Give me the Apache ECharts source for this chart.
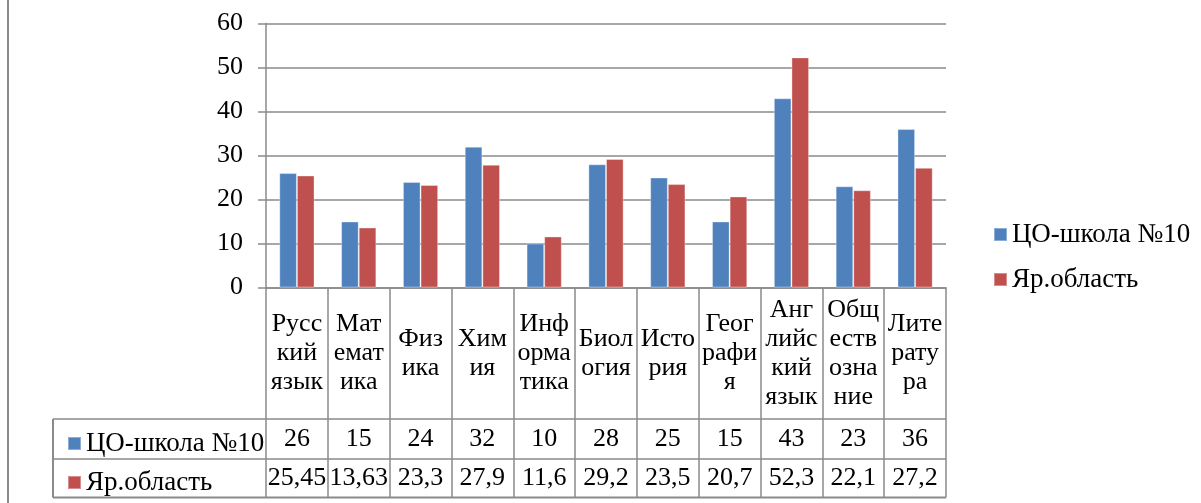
<!DOCTYPE html>
<html>
<head>
<meta charset="utf-8">
<script src="https://cdn.jsdelivr.net/npm/echarts@6/dist/echarts.min.js"></script>
<style>
html,body{margin:0;padding:0;background:#fff;}
#chart{width:1201px;height:503px;}
</style>
</head>
<body>
<div id="chart"></div>
<script>
// ---- data ----
const categories = ["Русс\nкий\nязык", "Мат\nемат\nика", "Физ\nика", "Хим\nия", "Инф\nорма\nтика", "Биол\nогия", "Исто\nрия", "Геог\nрафи\nя", "Анг\nлийс\nкий\nязык", "Общ\nеств\nозна\nние", "Лите\nрату\nра"];
const seriesNames = ["ЦО-школа №10", "Яр.область"];
const schoolValues = [26, 15, 24, 32, 10, 28, 25, 15, 43, 23, 36];
const regionValues = [25.45, 13.63, 23.3, 27.9, 11.6, 29.2, 23.5, 20.7, 52.3, 22.1, 27.2];
const yTicks = [0, 10, 20, 30, 40, 50, 60];

// ---- layout / style ----
const FONT = "'Liberation Serif'";
const GRID_L = 266, GRID_R = 946, GRID_T = 23.5, AXIS_Y = 287.5;
const ROW1 = 419, ROW2 = 459, TABLE_B = 497.5, TABLE_L = 53;
const GRAY = "#8a8a8a";
const BLUE = "#4F81BD", RED = "#C0504D";
const fmt = v => String(v).replace('.', ',');

const chart = echarts.init(document.getElementById('chart'), null, {renderer: 'canvas'});

const valueAxis = (data, margin) => ({
  type: 'category', data: categories, position: 'bottom', gridIndex: 0,
  axisLine: {show: false}, axisTick: {show: false}, splitLine: {show: false},
  axisLabel: {
    interval: 0, margin: margin, verticalAlign: 'middle',
    fontFamily: FONT, fontSize: 26, color: '#000',
    formatter: (v, i) => fmt(data[i])
  }
});

chart.setOption({
  animation: false,
  backgroundColor: '#fff',
  grid: {left: GRID_L, right: 1201 - GRID_R, top: GRID_T, bottom: 503 - AXIS_Y, containLabel: false},
  legend: [
    {
      orient: 'vertical', left: 988, top: 216, itemWidth: 13, itemHeight: 13, itemGap: 18,
      icon: 'rect', data: seriesNames,
      textStyle: {fontFamily: FONT, fontSize: 27, color: '#000'}
    },
    {
      orient: 'vertical', left: 62, top: 425, itemWidth: 13, itemHeight: 13, itemGap: 12,
      icon: 'rect', data: seriesNames, selectedMode: false,
      textStyle: {fontFamily: FONT, fontSize: 27, color: '#000'}
    }
  ],
  xAxis: [
    {
      type: 'category', data: categories, position: 'bottom',
      axisLine: {show: true, lineStyle: {color: GRAY, width: 1.5}},
      axisTick: {show: true, alignWithLabel: false, interval: 0, inside: false,
                 length: TABLE_B - AXIS_Y, lineStyle: {color: GRAY, width: 1.5}},
      axisLabel: {interval: 0, margin: 66, verticalAlign: 'middle', align: 'center',
                  fontFamily: FONT, fontSize: 26, lineHeight: 29, color: '#000'},
      splitLine: {show: false}
    },
    valueAxis(schoolValues, ROW1 + (ROW2 - ROW1) / 2 - AXIS_Y),
    valueAxis(regionValues, ROW2 + (TABLE_B - ROW2) / 2 - AXIS_Y)
  ],
  yAxis: {
    type: 'value', min: 0, max: 60, interval: 10,
    axisLine: {show: true, lineStyle: {color: GRAY, width: 1.5}},
    axisTick: {show: true, length: 8, lineStyle: {color: GRAY, width: 1.5}},
    axisLabel: {margin: 23, fontFamily: FONT, fontSize: 26, color: '#000',
                formatter: v => yTicks.includes(v) ? String(v) : ''},
    splitLine: {show: true, lineStyle: {color: GRAY, width: 1.5}}
  },
  series: [
    {name: seriesNames[0], type: 'bar', data: schoolValues, barGap: '0%', barCategoryGap: '43%',
     itemStyle: {color: BLUE, borderColor: 'rgba(255,255,255,0.35)', borderWidth: 1}},
    {name: seriesNames[1], type: 'bar', data: regionValues, barGap: '0%', barCategoryGap: '43%',
     itemStyle: {color: RED, borderColor: 'rgba(255,255,255,0.35)', borderWidth: 1}}
  ],
  graphic: [
    {type: 'line', shape: {x1: 8, y1: 0, x2: 8, y2: 503}, style: {stroke: GRAY, lineWidth: 2}},
    {type: 'line', shape: {x1: TABLE_L, y1: ROW1, x2: GRID_R, y2: ROW1}, style: {stroke: GRAY, lineWidth: 1.5}},
    {type: 'line', shape: {x1: TABLE_L, y1: ROW2, x2: GRID_R, y2: ROW2}, style: {stroke: GRAY, lineWidth: 1.5}},
    {type: 'line', shape: {x1: TABLE_L, y1: TABLE_B, x2: GRID_R, y2: TABLE_B}, style: {stroke: GRAY, lineWidth: 2}},
    {type: 'line', shape: {x1: TABLE_L, y1: ROW1, x2: TABLE_L, y2: TABLE_B}, style: {stroke: GRAY, lineWidth: 2}}
  ]
});
</script>
</body>
</html>
